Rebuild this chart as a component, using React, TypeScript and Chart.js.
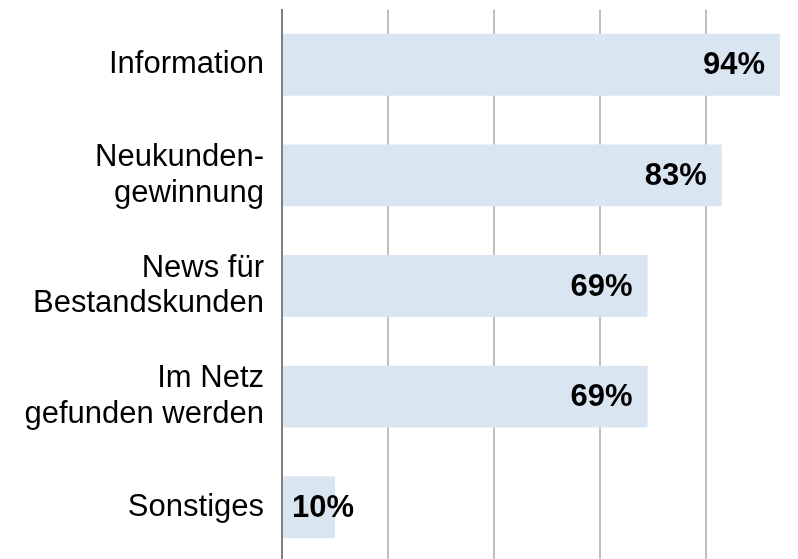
import React, { useEffect, useRef } from "react";
import { Chart, registerables } from "chart.js";

Chart.register(...registerables);

const categories: (string | string[])[] = [
  "Information",
  ["Neukunden-", "gewinnung"],
  ["News für", "Bestandskunden"],
  ["Im Netz", "gefunden werden"],
  "Sonstiges",
];
const values: number[] = [94, 83, 69, 69, 10];
const valueLabels: string[] = ["94%", "83%", "69%", "69%", "10%"];

const FONT = '"Liberation Sans", Arial, sans-serif';

const valueLabelPlugin = {
  id: "valueLabels",
  afterDatasetsDraw(chart: any) {
    const ctx = chart.ctx;
    const meta = chart.getDatasetMeta(0);
    ctx.save();
    ctx.font = `bold 31px ${FONT}`;
    ctx.fillStyle = "#000000";
    ctx.textAlign = "left";
    ctx.textBaseline = "middle";
    meta.data.forEach((bar: any, i: number) => {
      const text = valueLabels[i];
      const w = ctx.measureText(text).width;
      let tx = bar.x - 15 - w;
      if (tx < bar.base + 9) tx = bar.base + 9;
      ctx.fillText(text, tx, bar.y + 1);
    });
    ctx.restore();
  },
};

export default function App() {
  const ref = useRef<HTMLCanvasElement | null>(null);
  useEffect(() => {
    if (!ref.current) return;
    const chart = new Chart(ref.current, {
      type: "bar",
      data: {
        labels: categories,
        datasets: [
          {
            data: values,
            backgroundColor: "#dae5f2",
            borderWidth: 0,
            barPercentage: 0.56,
            categoryPercentage: 1,
          },
        ],
      },
      options: {
        indexAxis: "y",
        animation: false,
        responsive: false,
        maintainAspectRatio: false,
        layout: { padding: { top: 1.5, bottom: 5.5, left: 0, right: 10 } },
        plugins: {
          legend: { display: false },
          tooltip: { enabled: false },
        },
        scales: {
          x: {
            min: 0,
            max: 94,
            ticks: { display: false, stepSize: 20 },
            grid: {
              drawTicks: false,
              lineWidth: 2,
              color: (c: any) =>
                c.tick && c.tick.value % 20 === 0 && c.tick.value !== 0
                  ? "#c0c0c0"
                  : "rgba(0,0,0,0)",
            },
            border: { display: false },
            afterFit: (scale: any) => {
              scale.paddingLeft = 0;
              scale.paddingRight = 0;
              scale.height = 0;
            },
          },
          y: {
            z: 1,
            grid: { display: false, drawTicks: false },
            border: { display: true, color: "#808080", width: 2 },
            ticks: {
              padding: 18,
              color: "#000000",
              font: { family: FONT, size: 31, lineHeight: 1.15 },
            },
            afterFit: (scale: any) => {
              scale.width = 274;
              scale.paddingTop = 0;
              scale.paddingBottom = 0;
            },
          },
        },
      },
      plugins: [valueLabelPlugin],
    });
    return () => chart.destroy();
  }, []);
  return (
    <div style={{ width: 782, height: 560 }}>
      <canvas ref={ref} width={782} height={560} style={{ display: "block" }} />
    </div>
  );
}
